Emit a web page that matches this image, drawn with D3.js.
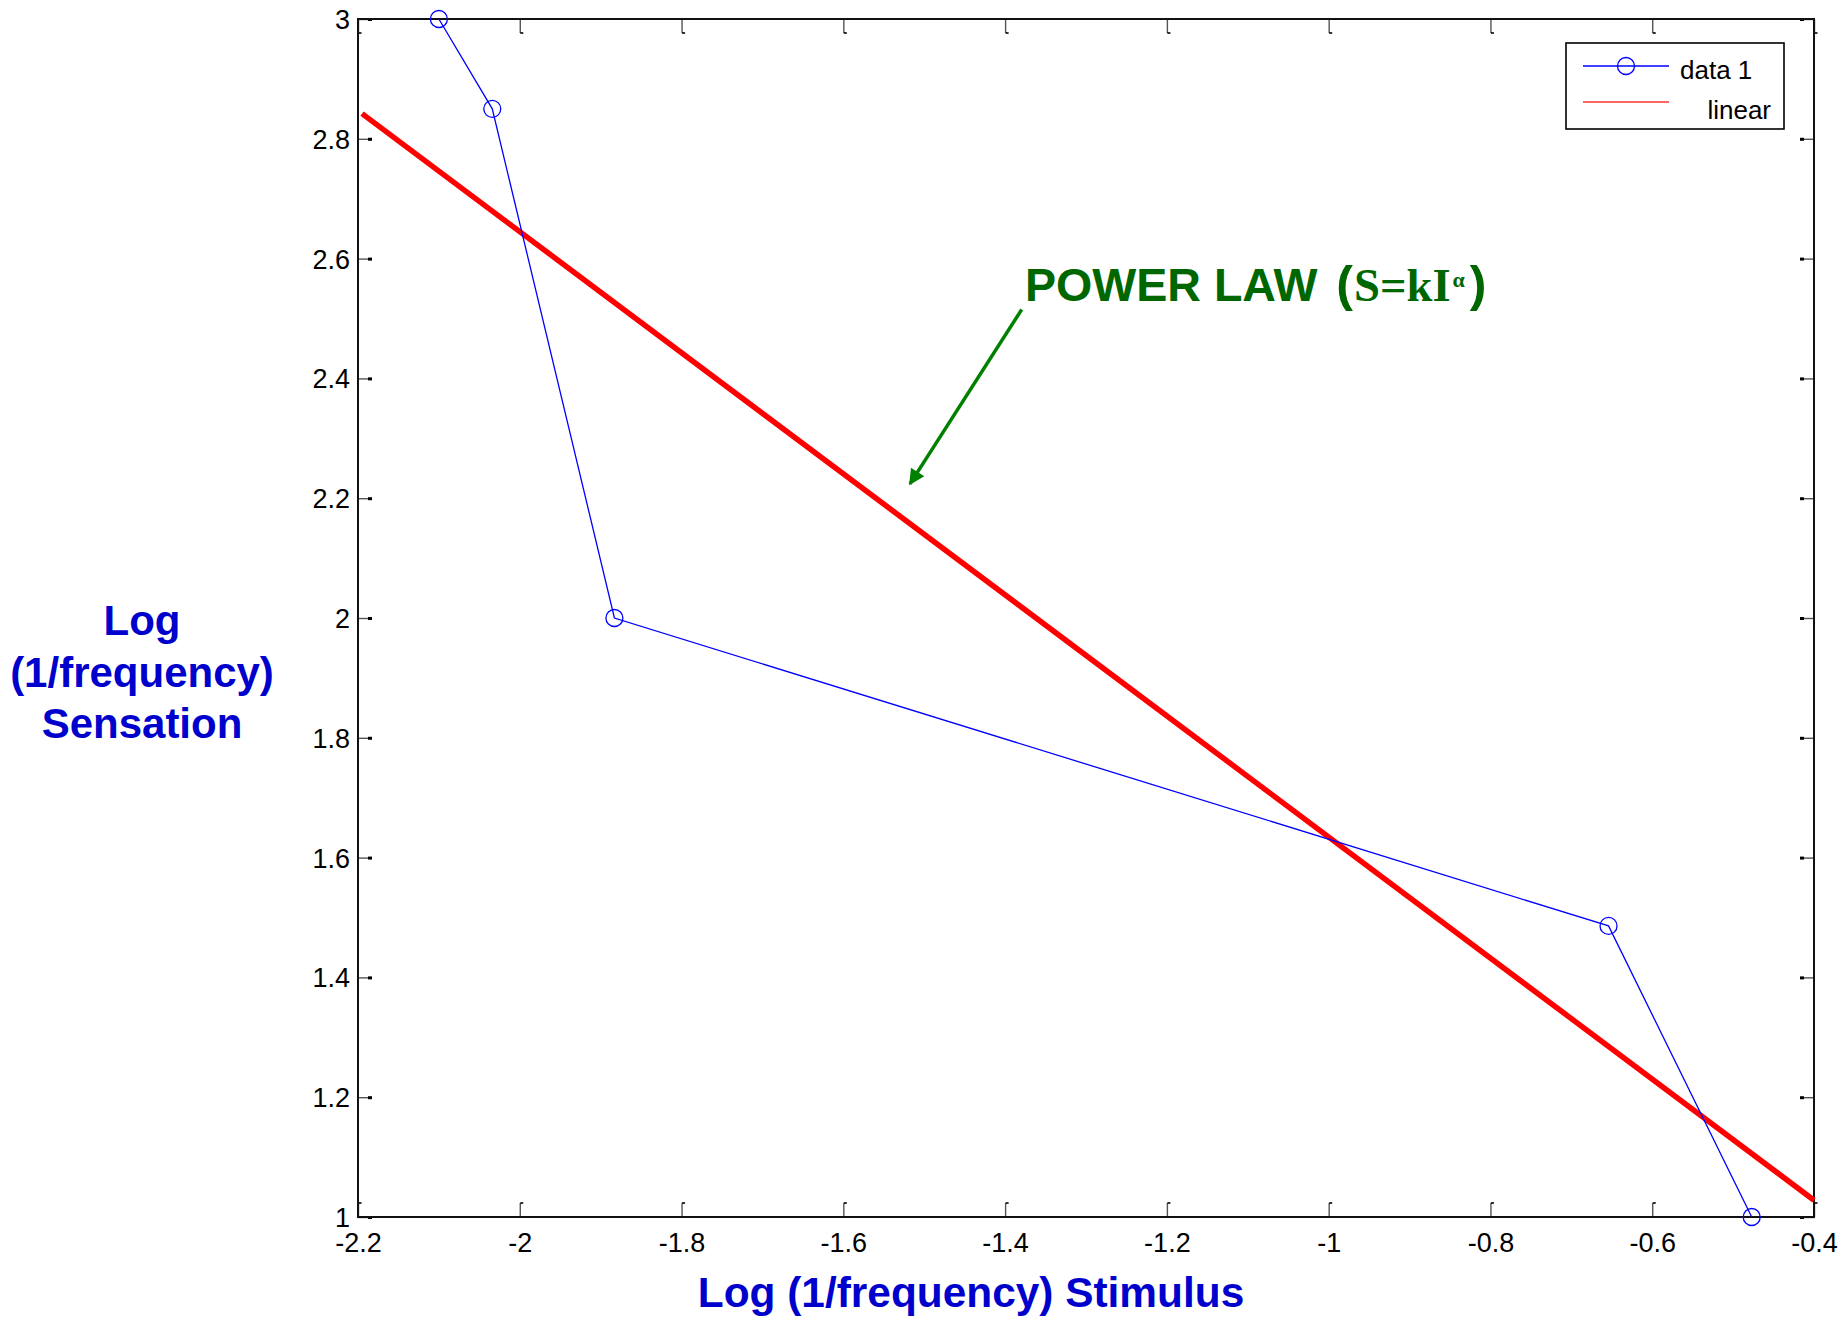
<!DOCTYPE html>
<html><head><meta charset="utf-8">
<script src="https://cdn.jsdelivr.net/npm/d3@7"></script>
<style>body{margin:0;background:#fff}svg{display:block}</style>
</head><body>
<script>
// ---- data ----
const dataX = [-2.10, -2.034, -1.883, -0.654, -0.477];
const dataY = [3.0, 2.85, 2.0, 1.486, 1.0];
const linearX = [-2.195, -0.4];
const linearY = [2.842, 1.028];
const xTicks = [-2.2, -2.0, -1.8, -1.6, -1.4, -1.2, -1.0, -0.8, -0.6, -0.4];
const xTickLabels = ["-2.2", "-2", "-1.8", "-1.6", "-1.4", "-1.2", "-1", "-0.8", "-0.6", "-0.4"];
const yTicks = [1.0, 1.2, 1.4, 1.6, 1.8, 2.0, 2.2, 2.4, 2.6, 2.8, 3.0];
const yTickLabels = ["1", "1.2", "1.4", "1.6", "1.8", "2", "2.2", "2.4", "2.6", "2.8", "3"];
const seriesNames = ["data 1", "linear"];
const xTitle = "Log (1/frequency) Stimulus";
const yTitleLines = ["Log", "(1/frequency)", "Sensation"];
const arrowFrom = [-1.3795, 2.515];
const arrowTo = [-1.5176, 2.224];
const notePos = [-1.3755, 2.529];

const W = 1839, H = 1317;
const L = 358, R = 1814, T = 19, B = 1217;
const sans = "'Liberation Sans', Arial, sans-serif";
const serif = "'Liberation Serif', 'Times New Roman', serif";

const svg = d3.select("body").append("svg").attr("width", W).attr("height", H);
svg.append("rect").attr("width", W).attr("height", H).attr("fill", "#fff");

const x = d3.scaleLinear().domain([-2.2, -0.4]).range([L, R]);
const y = d3.scaleLinear().domain([1, 3]).range([B, T]);

// ---- axes with inward ticks ----
const tl = 14;
function mkAxis(gen, tx, ty) {
  return svg.append("g").attr("transform", `translate(${tx},${ty})`).call(gen)
    .call(g => g.select(".domain").remove());
}
const axB = mkAxis(d3.axisBottom(x).tickValues(xTicks).tickSize(-tl).tickPadding(tl + 8)
  .tickFormat((d, i) => xTickLabels[i]), 0, B);
const axT = mkAxis(d3.axisTop(x).tickValues(xTicks).tickSize(-tl).tickFormat(""), 0, T);
const axL = mkAxis(d3.axisLeft(y).tickValues(yTicks).tickSize(-tl).tickPadding(tl + 8)
  .tickFormat((d, i) => yTickLabels[i]), L, 0);
const axR = mkAxis(d3.axisRight(y).tickValues(yTicks).tickSize(-tl).tickFormat(""), R, 0);

[axB, axT, axL, axR].forEach(g => {
  g.selectAll(".tick line").attr("stroke", "#555").attr("stroke-width", 1.4);
  g.selectAll(".tick text").attr("font-family", sans).attr("font-size", 27).attr("fill", "#000");
});
axB.selectAll(".tick text").attr("dy", "0.72em").attr("y", 16);
axL.selectAll(".tick text").attr("x", -8).attr("dy", "0.35em");
// tick serifs
axB.selectAll(".tick").append("line").attr("x1", 0).attr("x2", 3).attr("y1", -tl).attr("y2", -tl).attr("stroke", "#000").attr("stroke-width", 1.6);
axT.selectAll(".tick").append("line").attr("x1", 0).attr("x2", 3).attr("y1", tl).attr("y2", tl).attr("stroke", "#000").attr("stroke-width", 1.6);
axL.selectAll(".tick").append("line").attr("x1", tl - 4).attr("x2", tl).attr("y1", 0).attr("y2", 0).attr("stroke", "#000").attr("stroke-width", 3);
axR.selectAll(".tick").append("line").attr("x1", -tl).attr("x2", -tl + 4).attr("y1", 0).attr("y2", 0).attr("stroke", "#000").attr("stroke-width", 3);

// box
svg.append("rect").attr("x", L).attr("y", T).attr("width", R - L).attr("height", B - T)
  .attr("fill", "none").attr("stroke", "#111").attr("stroke-width", 2);

// ---- linear fit ----
svg.append("line")
  .attr("x1", x(linearX[0])).attr("y1", y(linearY[0]))
  .attr("x2", x(linearX[1])).attr("y2", y(linearY[1]))
  .attr("stroke", "#ff0000").attr("stroke-width", 5.5);

// ---- data 1 ----
const pts = dataX.map((d, i) => [d, dataY[i]]);
svg.append("path").attr("d", d3.line().x(d => x(d[0])).y(d => y(d[1]))(pts))
  .attr("fill", "none").attr("stroke", "#0000ff").attr("stroke-width", 1.3);
svg.selectAll("circle.pt").data(pts).join("circle").attr("class", "pt")
  .attr("cx", d => x(d[0])).attr("cy", d => y(d[1])).attr("r", 8.5)
  .attr("fill", "none").attr("stroke", "#0000ff").attr("stroke-width", 1.3);

// ---- legend ----
const lg = svg.append("g");
lg.append("rect").attr("x", 1566).attr("y", 43).attr("width", 218).attr("height", 86)
  .attr("fill", "#fff").attr("stroke", "#000").attr("stroke-width", 1.6);
lg.append("line").attr("x1", 1583).attr("x2", 1669).attr("y1", 66).attr("y2", 66)
  .attr("stroke", "#0000ff").attr("stroke-width", 1.3);
lg.append("circle").attr("cx", 1626).attr("cy", 66).attr("r", 8.5)
  .attr("fill", "none").attr("stroke", "#0000ff").attr("stroke-width", 1.3);
lg.append("line").attr("x1", 1583).attr("x2", 1669).attr("y1", 102).attr("y2", 102)
  .attr("stroke", "#ff3333").attr("stroke-width", 1.5);
lg.append("text").attr("x", 1680).attr("y", 79).attr("font-family", sans).attr("font-size", 26).text(seriesNames[0]);
lg.append("text").attr("x", 1771).attr("y", 119).attr("text-anchor", "end").attr("font-family", sans).attr("font-size", 26).text(seriesNames[1]);

// ---- titles ----
svg.append("text").attr("x", 971).attr("y", 1307).attr("text-anchor", "middle")
  .attr("font-family", sans).attr("font-weight", "bold").attr("font-size", 42.4)
  .attr("fill", "#0000cc").text(xTitle);
svg.append("g").selectAll("text").data(yTitleLines).join("text")
  .attr("x", 142).attr("y", (d, i) => 635 + i * 51.5).attr("text-anchor", "middle")
  .attr("font-family", sans).attr("font-weight", "bold").attr("font-size", 42)
  .attr("fill", "#0000cc").text(d => d);

// ---- annotation ----
const defs = svg.append("defs");
defs.append("marker").attr("id", "ah").attr("viewBox", "0 0 10 10").attr("refX", 9).attr("refY", 5)
  .attr("markerWidth", 5.5).attr("markerHeight", 4.5).attr("markerUnits", "strokeWidth").attr("orient", "auto")
  .append("path").attr("d", "M0,0 L10,5 L0,10 Z").attr("fill", "#008000");
svg.append("line")
  .attr("x1", x(arrowFrom[0])).attr("y1", y(arrowFrom[1]))
  .attr("x2", x(arrowTo[0])).attr("y2", y(arrowTo[1]))
  .attr("stroke", "#008000").attr("stroke-width", 3.5).attr("marker-end", "url(#ah)");

const note = svg.append("text").attr("x", x(notePos[0])).attr("y", y(notePos[1]))
  .attr("fill", "#006600").attr("font-weight", "bold").attr("font-size", 46.6).attr("font-family", sans);
note.append("tspan").text("POWER LAW ");
note.append("tspan").attr("dx", 6).attr("font-size", 50).text("(");
note.append("tspan").attr("font-family", serif).attr("dx", 1).text("S=kI");
note.append("tspan").attr("font-family", serif).attr("font-size", 22).attr("dx", 2).attr("dy", -14).text("α");
note.append("tspan").attr("dy", 14).attr("dx", 5).attr("font-size", 50).text(")");
</script>
</body></html>
